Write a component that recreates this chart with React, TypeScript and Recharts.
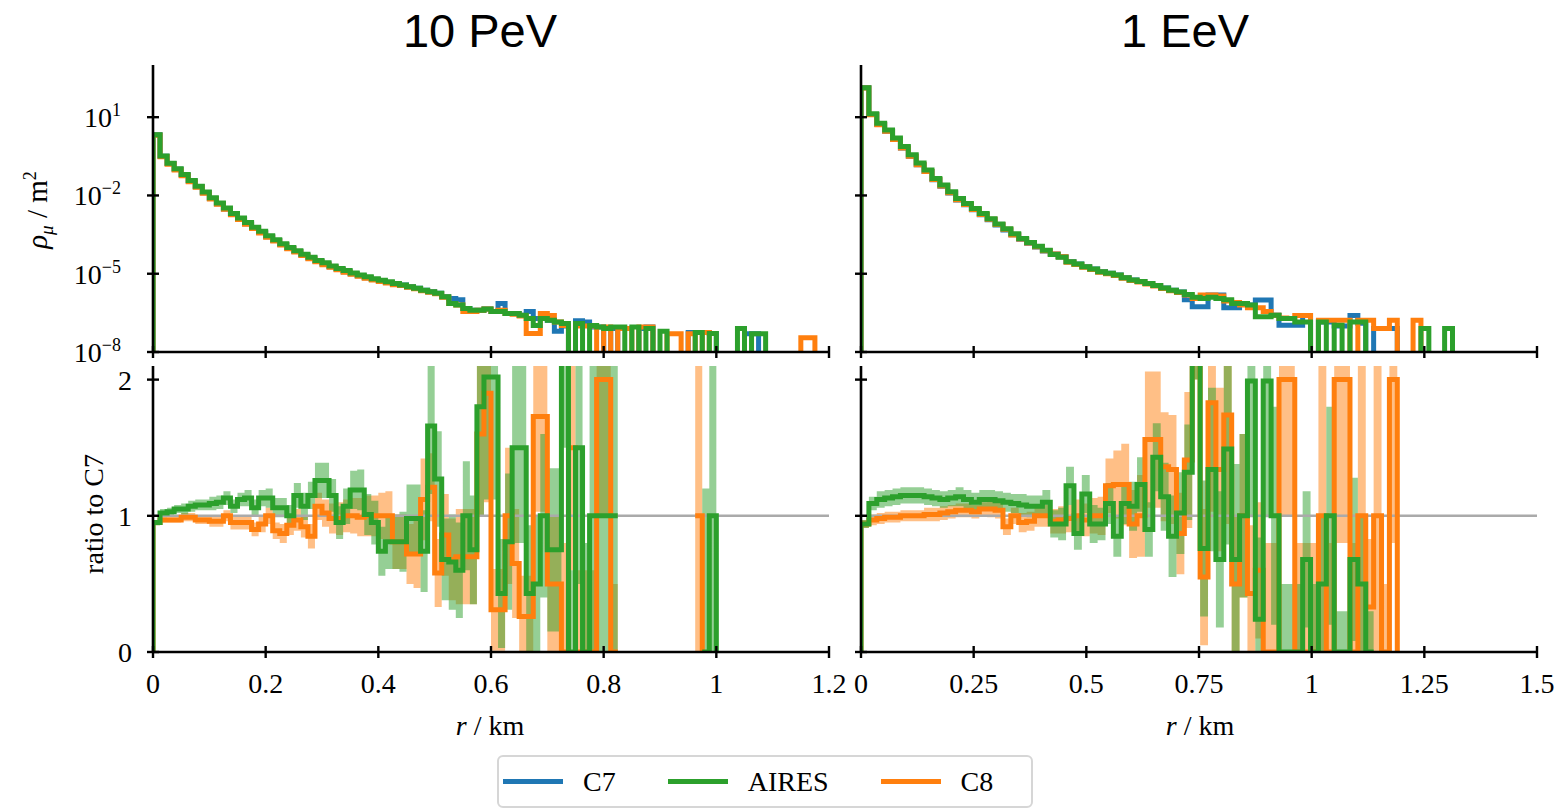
import React from "react";
import { Area, ComposedChart, Line, ReferenceLine, XAxis, YAxis } from "recharts";

const SERIF = '"Liberation Serif", "Times New Roman", serif';
const SANS = '"Liberation Sans", Arial, sans-serif';

const SERIES = [
  { name: "C7", color: "#1f77b4" },
  { name: "AIRES", color: "#2ca02c" },
  { name: "C8", color: "#ff7f0e" },
];
const C7 = "#1f77b4";
const AIRES = "#2ca02c";
const C8 = "#ff7f0e";

// bin widths in km
const BIN_PEV = 0.0125;
const BIN_EEV = 0.0175;

const X_TICKS_PEV = [0, 0.2, 0.4, 0.6, 0.8, 1, 1.2];
const X_LABELS_PEV = ["0", "0.2", "0.4", "0.6", "0.8", "1", "1.2"];
const X_TICKS_EEV = [0, 0.25, 0.5, 0.75, 1, 1.25, 1.5];
const X_LABELS_EEV = ["0", "0.25", "0.5", "0.75", "1", "1.25", "1.5"];

// top panels: log10(rho / m^2), null = empty bin
const RHO_TICKS = [-8, -5, -2, 1];
const RHO_EXPONENTS = ["\u22128", "\u22125", "\u22122", "1"];
const RATIO_TICKS = [0, 1, 2];
const RATIO_LABELS = ["0", "1", "2"];

const RHO_PEV_C7 = [
  0.33, -0.5, -0.78, -1.0, -1.22, -1.45, -1.67, -1.9, -2.12, -2.32,
  -2.52, -2.72, -2.9, -3.08, -3.25, -3.42, -3.58, -3.73, -3.88, -4.02,
  -4.15, -4.28, -4.4, -4.52, -4.63, -4.73, -4.83, -4.92, -5.0, -5.08,
  -5.15, -5.22, -5.28, -5.34, -5.4, -5.43, -5.5, -5.56, -5.63, -5.69,
  -5.75, -5.88, -5.95, -6.0, -6.33, -6.4, -6.4, -6.35, -6.45, -6.14,
  -6.52, -6.52, -6.59, -6.45, -6.72, -6.72, -6.78, -7.2, -7.0, null,
  -6.8, -6.85, -7.04, -7.04, null, -7.1, null, null, null, -7.1,
  -7.04, null, null, null, null, null, -7.25, -7.25, -7.25, -7.29,
  null, null, null, null, -7.3, -7.3,
];
const RHO_PEV_C8 = [
  0.31, -0.52, -0.8, -1.02, -1.24, -1.47, -1.69, -1.92, -2.14, -2.34,
  -2.53, -2.74, -2.92, -3.1, -3.27, -3.44, -3.6, -3.75, -3.9, -4.04,
  -4.17, -4.3, -4.43, -4.54, -4.66, -4.75, -4.85, -4.94, -5.02, -5.1,
  -5.17, -5.24, -5.3, -5.36, -5.42, -5.45, -5.52, -5.58, -5.65, -5.71,
  -5.77, -5.9, -6.14, -6.2, -6.45, -6.45, -6.4, -6.35, -6.45, -6.4,
  -6.52, -6.55, -6.62, -7.29, -7.29, -6.52, -6.6, -6.85, -6.98, null,
  -7.0, -7.0, -7.0, null, -7.04, null, -7.1, -7.1, null, -7.04,
  -7.04, null, null, -7.3, -7.3, null, -7.3, null, -7.25, null,
  null, null, null, null, null, null, null, null, null, null,
  null, null, -7.45, -7.45,
];
const RHO_PEV_AIRES = [
  0.33, -0.49, -0.77, -0.98, -1.2, -1.43, -1.65, -1.87, -2.09, -2.29,
  -2.48, -2.69, -2.86, -3.04, -3.22, -3.37, -3.54, -3.7, -3.85, -3.99,
  -4.12, -4.25, -4.37, -4.49, -4.58, -4.7, -4.8, -4.88, -4.97, -5.05,
  -5.12, -5.19, -5.25, -5.31, -5.37, -5.43, -5.5, -5.56, -5.63, -5.69,
  -5.75, -5.88, -6.14, -6.2, -6.33, -6.4, -6.4, -6.35, -6.45, -6.45,
  -6.52, -6.52, -6.59, -6.72, -6.98, -6.72, -6.78, -6.85, -6.91, null,
  -6.91, null, -6.98, -7.04, -7.1, -7.04, -7.04, null, -7.04, null,
  -7.1, null, -7.2, null, null, null, null, -7.25, null, -7.29,
  null, null, null, -7.1, null, -7.3, -7.3,
];

const RHO_EEV_C7 = [
  2.13, 1.1, 0.72, 0.46, 0.14, -0.18, -0.5, -0.82, -1.08, -1.4,
  -1.65, -1.91, -2.17, -2.36, -2.55, -2.74, -2.93, -3.13, -3.32, -3.51,
  -3.68, -3.83, -3.98, -4.13, -4.24, -4.35, -4.54, -4.63, -4.73, -4.82,
  -4.92, -4.98, -5.05, -5.15, -5.24, -5.3, -5.37, -5.45, -5.55, -5.63,
  -5.7, -6.0, -6.27, -6.27, -5.82, -5.82, -6.3, -6.3, -6.14, -6.2,
  -6.01, -6.01, -6.59, -6.97, -6.97, -6.97, -6.6, null, -6.85, -6.85,
  -7.0, -7.0, -6.6, -6.9, null, -7.1, -7.1, -7.1,
];
const RHO_EEV_C8 = [
  2.12, 1.09, 0.71, 0.46, 0.14, -0.18, -0.5, -0.82, -1.08, -1.39,
  -1.64, -1.9, -2.16, -2.35, -2.54, -2.73, -2.91, -3.11, -3.3, -3.52,
  -3.67, -3.82, -3.97, -4.12, -4.24, -4.35, -4.56, -4.65, -4.75, -4.84,
  -4.94, -5.0, -5.07, -5.17, -5.26, -5.32, -5.39, -5.47, -5.57, -5.65,
  -5.72, -5.82, -5.95, -5.82, -5.82, -5.85, -6.05, -6.1, -6.2, -6.3,
  -6.3, -6.45, -6.59, -6.7, -6.72, -6.6, -6.6, null, -6.78, -6.78,
  -6.78, -6.78, null, -6.78, -6.78, -7.1, -7.1, -6.78, null, null,
  -6.78,
];
const RHO_EEV_AIRES = [
  2.13, 1.13, 0.77, 0.51, 0.2, -0.12, -0.44, -0.76, -1.02, -1.35,
  -1.6, -1.86, -2.12, -2.31, -2.5, -2.69, -2.89, -3.09, -3.28, -3.47,
  -3.65, -3.8, -3.95, -4.1, -4.26, -4.37, -4.54, -4.63, -4.73, -4.82,
  -4.92, -4.98, -5.05, -5.15, -5.24, -5.3, -5.37, -5.45, -5.55, -5.63,
  -5.7, -5.8, -5.9, -5.95, -5.9, -5.95, -6.0, -6.14, -6.14, -6.2,
  -6.65, -6.65, -6.59, -6.72, -6.72, -6.85, -6.85, null, -6.85, null,
  -6.97, null, -6.85, -6.85, null, null, null, null, null, null,
  null, -7.1, null, null, -7.1,
];

// bottom panels: ratio to C7 (null = undefined ratio) and error half-widths
const RATIO_PEV_AIRES = [
  0.95, 1.02, 1.03, 1.05, 1.05, 1.07, 1.08, 1.08, 1.09, 1.1,
  1.13, 1.07, 1.12, 1.13, 1.06, 1.13, 1.13, 1.06, 1.06, 1.0,
  1.15, 1.07, 1.15, 1.26, 1.26, 1.15, 0.95, 1.07, 1.19, 1.19,
  1.01, 0.95, 0.74, 0.81, 0.81, 0.81, 0.98, 0.98, 0.74, 1.66,
  1.27, 0.68, 0.66, 0.6, 1.0, 0.75, 1.8, 2.02, 2.02, 0.43,
  0.81, 1.5, 1.5, 0.43, 0.5, 1.0, 0.75, 0.75, 3, 0,
  1.5, 0, 1.0, 1.0, 1.0, 1.0, null, null, null, null,
  null, null, null, null, null, null, null, null, 0, 1.0,
];
const ERR_PEV_AIRES = [
  0.02, 0.03, 0.03, 0.03, 0.04, 0.04, 0.04, 0.04, 0.05, 0.05,
  0.05, 0.05, 0.05, 0.06, 0.06, 0.06, 0.07, 0.07, 0.07, 0.08,
  0.09, 0.1, 0.1, 0.13, 0.13, 0.12, 0.12, 0.13, 0.14, 0.15,
  0.15, 0.16, 0.18, 0.2, 0.2, 0.22, 0.25, 0.25, 0.3, 0.5,
  0.35, 0.3, 0.35, 0.35, 0.4, 0.4, 0.8, 0.9, 0.9, 0.4,
  0.5, 0.7, 0.7, 0.5, 0.5, 0.6, 0.6, 0.6, 1.5, 0.6,
  1.0, 0.8, 1.1, 1.1, 1.1, 1.1, 0, 0, 0, 0,
  0, 0, 0, 0, 0, 0, 0, 0, 1.2, 1.2,
];
const RATIO_PEV_C8 = [
  0.95, 0.97, 0.97, 0.97, 0.99, 0.99, 0.97, 0.97, 0.96, 0.96,
  1.0, 0.95, 0.95, 0.95, 0.9, 0.94, 1.0, 0.89, 0.87, 0.93,
  0.97, 0.92, 0.85, 1.07, 1.02, 0.98, 0.98, 1.0, 1.0, 0.99,
  1.0, 1.0, 1.0, 1.0, 0.81, 0.81, 0.72, 0.72, 1.12, 1.21,
  0.58, 0.86, 0.68, 0.7, 0.7, 0.7, 1.6, 1.9, 0.31, 0.31,
  1.0, 0.65, 0.26, 0.26, 1.73, 1.73, 0.5, 0.5, 0, 1.5,
  0, 0, 0, 2.0, 2.0, 0, null, null, null, null,
  null, null, null, null, null, null, null, 1.0,
];
const ERR_PEV_C8 = [
  0.02, 0.02, 0.02, 0.02, 0.03, 0.03, 0.03, 0.03, 0.04, 0.04,
  0.04, 0.05, 0.05, 0.05, 0.05, 0.06, 0.06, 0.06, 0.07, 0.07,
  0.08, 0.08, 0.09, 0.1, 0.1, 0.11, 0.12, 0.12, 0.13, 0.14,
  0.15, 0.15, 0.17, 0.18, 0.2, 0.2, 0.22, 0.25, 0.3, 0.25,
  0.25, 0.3, 0.3, 0.35, 0.35, 0.35, 0.6, 0.8, 0.3, 0.3,
  0.5, 0.4, 0.3, 0.3, 0.7, 0.7, 0.5, 0.5, 0.8, 0.9,
  0.6, 0.6, 0.6, 1.0, 1.0, 0.5, 0, 0, 0, 0,
  0, 0, 0, 0, 0, 0, 0, 1.2,
];

const RATIO_EEV_AIRES = [
  0.94, 1.09, 1.12, 1.13, 1.14, 1.15, 1.15, 1.15, 1.14, 1.13,
  1.12, 1.13, 1.14, 1.12, 1.1, 1.12, 1.12, 1.11, 1.1, 1.09,
  1.08, 1.07, 1.07, 1.1, 0.94, 0.94, 1.22, 0.87, 1.16, 0.94,
  0.94, 1.09, 0.85, 1.09, 1.07, 1.23, 0.9, 1.43, 1.14, 0.85,
  1.02, 1.32, 3, 0.76, 1.34, 0.68, 1.49, 0.68, 1.0, 1.99,
  0.24, 1.99, 1.0, 0, 0, 0, 0.68, 0, 0.5, 1.0,
  0, 0, 0.68, 0.5, 0,
];
const ERR_EEV_AIRES = [
  0.03, 0.05, 0.06, 0.06, 0.06, 0.06, 0.06, 0.06, 0.06, 0.06,
  0.06, 0.06, 0.07, 0.07, 0.07, 0.07, 0.07, 0.07, 0.07, 0.07,
  0.08, 0.08, 0.08, 0.09, 0.1, 0.12, 0.14, 0.12, 0.14, 0.14,
  0.12, 0.15, 0.15, 0.15, 0.18, 0.2, 0.2, 0.25, 0.25, 0.3,
  0.3, 0.35, 1.0, 0.5, 0.6, 0.5, 0.7, 0.7, 0.6, 1.0,
  0.6, 1.0, 0.8, 0.5, 0.5, 0.5, 0.5, 0.5, 0.5, 0.8,
  0.3, 0.3, 0.6, 0.5, 0.3,
];
const RATIO_EEV_C8 = [
  0.94, 0.97, 0.98, 0.99, 0.99, 1.0, 1.0, 1.0, 1.01, 1.01,
  1.02, 1.03, 1.04, 1.04, 1.03, 1.05, 1.05, 1.04, 0.92, 1.0,
  0.95, 0.96, 1.0, 1.0, 0.96, 0.97, 0.98, 1.0, 0.97, 1.0,
  1.0, 1.22, 1.23, 1.23, 0.94, 1.0, 1.56, 1.56, 1.36, 1.34,
  0.87, 1.41, 3, 0.55, 1.83, 1.34, 1.74, 0.5, 1.0, 0.43,
  0.6, 0, 0, 2.0, 2.0, 0, 0, 0, 1.0, 0,
  2.0, 2.0, 0, 1.0, 0.33, 1.0, 0, 2.0,
];
const ERR_EEV_C8 = [
  0.03, 0.04, 0.04, 0.04, 0.04, 0.04, 0.04, 0.04, 0.05, 0.05,
  0.05, 0.05, 0.05, 0.05, 0.05, 0.05, 0.06, 0.06, 0.06, 0.06,
  0.07, 0.07, 0.08, 0.08, 0.09, 0.1, 0.1, 0.12, 0.12, 0.13,
  0.14, 0.2, 0.25, 0.3, 0.25, 0.3, 0.5, 0.5, 0.4, 0.4,
  0.3, 0.5, 1.0, 0.5, 0.8, 0.6, 0.8, 0.5, 0.6, 0.5,
  0.5, 0.8, 0.8, 1.0, 1.0, 0.8, 0.8, 0.8, 1.2, 0.8,
  1.2, 1.2, 0.8, 1.2, 0.5, 1.2, 0.5, 1.2,
];

// empty bins on the log axis fall below the visible range
const LOG_FLOOR = -9;

type Pt = { r: number; v: number | null };
type BandPt = { r: number; b: [number, number] | null };

// histogram outline: rises from the baseline at r=0, gaps for null bins
function stairs(values: (number | null)[], bin: number, base: number, emptyAs: number | null): Pt[] {
  const pts: Pt[] = [{ r: 0, v: base }];
  let prev: number | null = base;
  values.forEach((raw, i) => {
    const v = raw === null ? emptyAs : raw;
    const r = i * bin;
    if (v === null) {
      if (prev !== null) pts.push({ r, v: prev });
      pts.push({ r, v: null });
    } else {
      pts.push({ r, v });
    }
    prev = v;
  });
  const end = values.length * bin;
  if (prev !== null) pts.push({ r: end, v: prev }, { r: end, v: base });
  return pts;
}

function bandStairs(values: (number | null)[], errs: number[], bin: number): BandPt[] {
  const pts: BandPt[] = [];
  let prev: [number, number] | null = null;
  values.forEach((v, i) => {
    const r = i * bin;
    const b: [number, number] | null = v === null ? null : [v - errs[i], v + errs[i]];
    if (b === null) {
      if (prev) pts.push({ r, b: prev });
      pts.push({ r, b: null });
    } else {
      pts.push({ r, b });
    }
    prev = b;
  });
  if (prev) pts.push({ r: values.length * bin, b: prev });
  return pts;
}

const PLOT_W = 676;
const TOP_Y = 65;
const TOP_H = 287;
const BOT_Y = 366;
const BOT_H = 286;
const LEFT_X = 153;
const RIGHT_X = 861;
const AX_W = 80;
const AX_H = 60;
const PAD_T = 10;
const PAD_R = 34;
const FRAME = { stroke: "#000", strokeWidth: 2.6 };
const LINE_W = 5;

type PanelProps = {
  x: number;
  y: number;
  h: number;
  xDomain: [number, number];
  xTicks: number[];
  xLabels?: string[];
  yDomain: [number, number];
  yTicks: number[];
  yKind: "log" | "ratio";
  showYLabels: boolean;
  bands?: { color: string; points: BandPt[] }[];
  lines: { color: string; points: Pt[] }[];
  unity?: boolean;
};

function Panel(p: PanelProps) {
  const xTick = (t: any) => {
    const i = p.xTicks.indexOf(t.payload.value);
    return (
      <g>
        <line x1={t.x} x2={t.x} y1={t.y - 6} y2={t.y + 6} stroke="#000" strokeWidth={2.4} />
        {p.xLabels && (
          <text x={t.x} y={t.y + 41} textAnchor="middle" fontFamily={SERIF} fontSize={28} fill="#000">
            {p.xLabels[i]}
          </text>
        )}
      </g>
    );
  };
  const yTick = (t: any) => {
    const i = p.yTicks.indexOf(t.payload.value);
    return (
      <g>
        <line x1={t.x - 6} x2={t.x + 6} y1={t.y} y2={t.y} stroke="#000" strokeWidth={2.4} />
        {p.showYLabels && p.yKind === "log" && (
          <text x={t.x - 32} y={t.y + 10} textAnchor="end" fontFamily={SERIF} fontSize={28} fill="#000">
            10
            <tspan dy={-11} fontSize={18}>
              {RHO_EXPONENTS[i]}
            </tspan>
          </text>
        )}
        {p.showYLabels && p.yKind === "ratio" && (
          <text x={t.x - 21} y={t.y + 10} textAnchor="end" fontFamily={SERIF} fontSize={28} fill="#000">
            {RATIO_LABELS[i]}
          </text>
        )}
      </g>
    );
  };
  return (
    <div style={{ position: "absolute", left: p.x - AX_W, top: p.y - PAD_T }}>
      <ComposedChart
        width={AX_W + PLOT_W + PAD_R}
        height={PAD_T + p.h + AX_H}
        margin={{ top: PAD_T, right: PAD_R, bottom: 0, left: 0 }}
      >
        <XAxis
          type="number"
          dataKey="r"
          domain={p.xDomain}
          ticks={p.xTicks}
          interval={0}
          allowDataOverflow
          height={AX_H}
          tickSize={0}
          tickMargin={0}
          tickLine={false}
          axisLine={FRAME}
          tick={xTick}
        />
        <XAxis
          xAxisId="frame"
          orientation="top"
          type="number"
          domain={p.xDomain}
          allowDataOverflow
          height={0}
          tick={false}
          tickLine={false}
          axisLine={FRAME}
        />
        <YAxis
          type="number"
          domain={p.yDomain}
          ticks={p.yTicks}
          interval={0}
          allowDataOverflow
          width={AX_W}
          tickSize={0}
          tickMargin={0}
          tickLine={false}
          axisLine={FRAME}
          tick={yTick}
        />
        <YAxis
          yAxisId="frame"
          orientation="right"
          type="number"
          domain={p.yDomain}
          allowDataOverflow
          width={0}
          tick={false}
          tickLine={false}
          axisLine={FRAME}
        />
        {(p.bands || []).map((b, k) => (
          <Area
            key={"band" + k}
            data={b.points}
            dataKey="b"
            type="stepAfter"
            stroke="none"
            fill={b.color}
            fillOpacity={0.5}
            isAnimationActive={false}
            activeDot={false}
          />
        ))}
        {p.unity && <ReferenceLine y={1} stroke="#aaaaaa" strokeWidth={2.5} />}
        {p.lines.map((l, k) => (
          <Line
            key={"line" + k}
            data={l.points}
            dataKey="v"
            type="stepAfter"
            stroke={l.color}
            strokeWidth={LINE_W}
            strokeLinejoin="miter"
            dot={false}
            activeDot={false}
            isAnimationActive={false}
          />
        ))}
      </ComposedChart>
    </div>
  );
}

function FigureLegend() {
  return (
    <div
      style={{
        position: "absolute",
        left: 497,
        top: 755,
        width: 536,
        height: 53,
        boxSizing: "border-box",
        border: "2px solid #d6d6d6",
        borderRadius: 6,
        background: "#fff",
        display: "flex",
        alignItems: "center",
        paddingLeft: 4,
        fontFamily: SERIF,
        fontSize: 28,
        color: "#000",
      }}
    >
      {SERIES.map((s) => (
        <div key={s.name} style={{ display: "flex", alignItems: "center", marginRight: 52 }}>
          <div style={{ width: 60, height: 5, background: s.color }} />
          <span style={{ marginLeft: 20 }}>{s.name}</span>
        </div>
      ))}
    </div>
  );
}

export default function App() {
  const topLines = (c7: (number | null)[], c8: (number | null)[], aires: (number | null)[], bin: number) => [
    { color: C7, points: stairs(c7, bin, LOG_FLOOR, LOG_FLOOR) },
    { color: C8, points: stairs(c8, bin, LOG_FLOOR, LOG_FLOOR) },
    { color: AIRES, points: stairs(aires, bin, LOG_FLOOR, LOG_FLOOR) },
  ];
  const ratioBands = (c8: (number | null)[], e8: number[], ai: (number | null)[], ea: number[], bin: number) => [
    { color: C8, points: bandStairs(c8, e8, bin) },
    { color: AIRES, points: bandStairs(ai, ea, bin) },
  ];
  const ratioLines = (c8: (number | null)[], ai: (number | null)[], bin: number) => [
    { color: C8, points: stairs(c8, bin, 0, null) },
    { color: AIRES, points: stairs(ai, bin, 0, null) },
  ];

  return (
    <div style={{ position: "absolute", left: 0, top: 0, width: 1566, height: 810, background: "#fff" }}>
      <svg width={1566} height={810} style={{ position: "absolute", left: 0, top: 0 }}>
        <text x={480} y={47} textAnchor="middle" fontFamily={SANS} fontSize={47} fill="#000">
          10 PeV
        </text>
        <text x={1185} y={47} textAnchor="middle" fontFamily={SANS} fontSize={47} fill="#000">
          1 EeV
        </text>
        <text transform="translate(47,210) rotate(-90)" textAnchor="middle" fontFamily={SERIF} fontSize={29} fill="#000">
          <tspan fontStyle="italic">ρ</tspan>
          <tspan fontStyle="italic" fontSize={19} dy={6}>
            μ
          </tspan>
          <tspan dy={-6}> / m</tspan>
          <tspan fontSize={18} dy={-11}>
            2
          </tspan>
        </text>
        <text transform="translate(103,514) rotate(-90)" textAnchor="middle" fontFamily={SERIF} fontSize={28} fill="#000">
          ratio to C7
        </text>
        <text x={490} y={735} textAnchor="middle" fontFamily={SERIF} fontSize={28} fill="#000">
          <tspan fontStyle="italic">r</tspan> / km
        </text>
        <text x={1200} y={735} textAnchor="middle" fontFamily={SERIF} fontSize={28} fill="#000">
          <tspan fontStyle="italic">r</tspan> / km
        </text>
      </svg>

      <Panel
        x={LEFT_X}
        y={TOP_Y}
        h={TOP_H}
        xDomain={[0, 1.2]}
        xTicks={X_TICKS_PEV}
        yDomain={[-8, 3]}
        yTicks={RHO_TICKS}
        yKind="log"
        showYLabels
        lines={topLines(RHO_PEV_C7, RHO_PEV_C8, RHO_PEV_AIRES, BIN_PEV)}
      />
      <Panel
        x={RIGHT_X}
        y={TOP_Y}
        h={TOP_H}
        xDomain={[0, 1.5]}
        xTicks={X_TICKS_EEV}
        yDomain={[-8, 3]}
        yTicks={RHO_TICKS}
        yKind="log"
        showYLabels={false}
        lines={topLines(RHO_EEV_C7, RHO_EEV_C8, RHO_EEV_AIRES, BIN_EEV)}
      />
      <Panel
        x={LEFT_X}
        y={BOT_Y}
        h={BOT_H}
        xDomain={[0, 1.2]}
        xTicks={X_TICKS_PEV}
        xLabels={X_LABELS_PEV}
        yDomain={[0, 2.1]}
        yTicks={RATIO_TICKS}
        yKind="ratio"
        showYLabels
        unity
        bands={ratioBands(RATIO_PEV_C8, ERR_PEV_C8, RATIO_PEV_AIRES, ERR_PEV_AIRES, BIN_PEV)}
        lines={ratioLines(RATIO_PEV_C8, RATIO_PEV_AIRES, BIN_PEV)}
      />
      <Panel
        x={RIGHT_X}
        y={BOT_Y}
        h={BOT_H}
        xDomain={[0, 1.5]}
        xTicks={X_TICKS_EEV}
        xLabels={X_LABELS_EEV}
        yDomain={[0, 2.1]}
        yTicks={RATIO_TICKS}
        yKind="ratio"
        showYLabels={false}
        unity
        bands={ratioBands(RATIO_EEV_C8, ERR_EEV_C8, RATIO_EEV_AIRES, ERR_EEV_AIRES, BIN_EEV)}
        lines={ratioLines(RATIO_EEV_C8, RATIO_EEV_AIRES, BIN_EEV)}
      />

      <FigureLegend />
    </div>
  );
}
